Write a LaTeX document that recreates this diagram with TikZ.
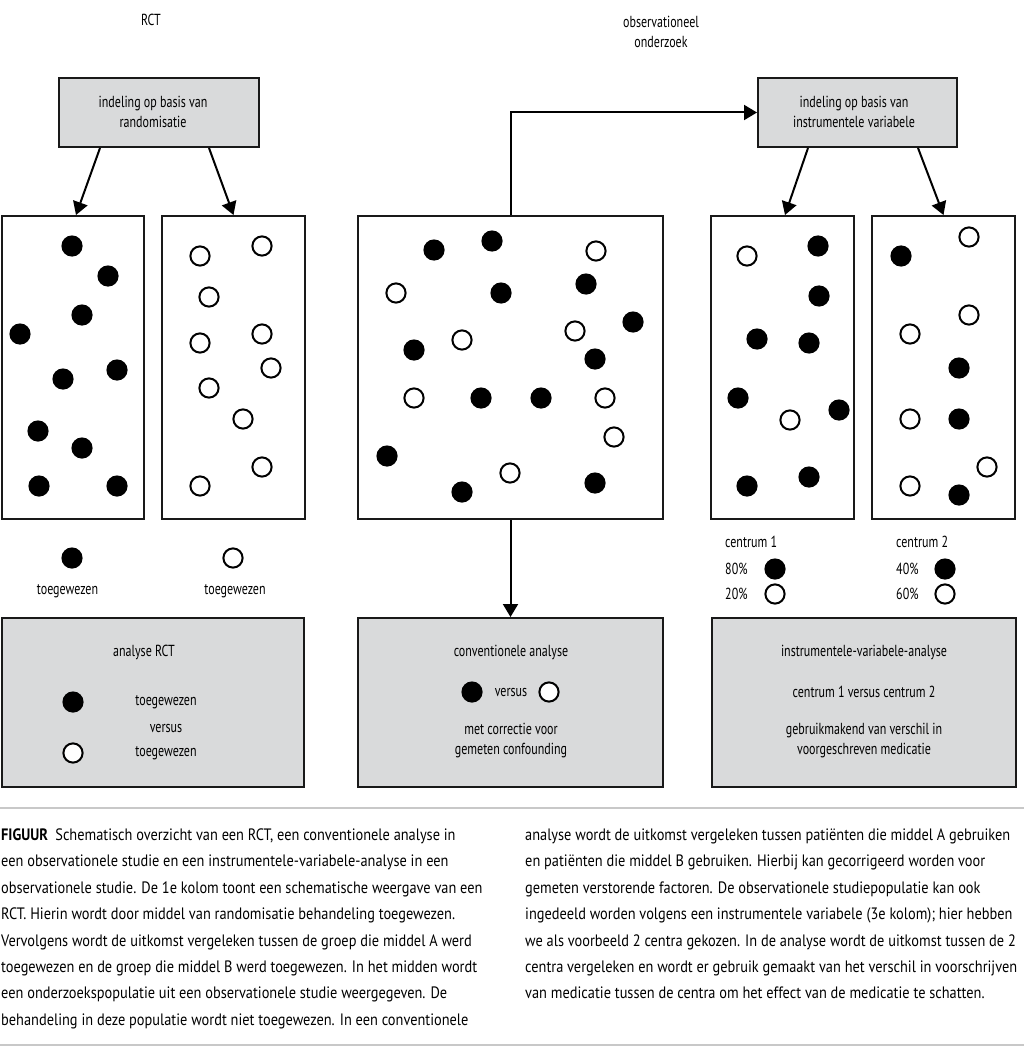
\documentclass[tikz,border=0pt]{standalone}
\usepackage{fontspec}
\setmainfont{PT Sans}[FakeStretch=0.87]
\newfontfamily\diagfont{PT Sans}[FakeStretch=0.75]
\usetikzlibrary{arrows.meta,calc}
\definecolor{boxgray}{RGB}{217,218,219}
\definecolor{rulegray}{RGB}{200,200,200}
\tikzset{
  pop/.style={draw=black!90, line width=2pt, minimum width=#1, minimum height=303pt, inner sep=0pt},
  graybox/.style={draw=black!90, fill=boxgray, line width=2pt, inner sep=0pt},
  arr/.style={line width=2pt, -{Triangle[length=13pt,width=15pt]}},
  lbl/.style={font=\diagfont\fontsize{16}{20}\selectfont, align=center, inner sep=0pt},
  captxt/.style={font=\fontsize{16.5}{20}\selectfont, anchor=base west, inner sep=0pt},
  fdot/.style={fill=black},
  odot/.style={draw=black, line width=2pt, fill=white},
}
\newcommand{\fd}[2]{\fill[fdot] (#1,#2) circle[radius=10.6pt];}
\newcommand{\od}[2]{\filldraw[odot] (#1,#2) circle[radius=9.6pt];}
\begin{document}
\begin{tikzpicture}[x=1pt,y=-1pt]
\useasboundingbox (0,0) rectangle (1024,1051);

% titles
\node[lbl] (trct) at (151,20) {RCT};
\node[lbl] (tobs) at (661,32) {observationeel\\onderzoek};

% top boxes
\node[graybox, minimum width=200pt, minimum height=69pt] (rtop) at (159,112.5) {};
\node[lbl] (rtoptxt) at (153,112) {indeling op basis van\\randomisatie};
\node[graybox, minimum width=199pt, minimum height=69pt] (ivtop) at (857.5,112.5) {};
\node[lbl] (ivtoptxt) at (854,112) {indeling op basis van\\instrumentele variabele};

% population boxes
\node[pop=142pt] (b1) at (73,367.5) {};
\node[pop=143pt] (b2) at (233.5,367.5) {};
\node[pop=305pt] (mid) at (510.5,367.5) {};
\node[pop=143pt] (c1) at (782.5,367.5) {};
\node[pop=143pt] (c2) at (943.5,367.5) {};

% connectors
\draw[arr] ($(rtop.south)+(-59,0)$) -- ($(b1.north)+(3,0)$);
\draw[arr] ($(rtop.south)+(50,0)$) -- ($(b2.north)+(0,0)$);
\draw[arr] ($(ivtop.south)+(-49.5,0)$) -- ($(c1.north)+(2.5,0)$);
\draw[arr] ($(ivtop.south)+(60.5,0)$) -- ($(c2.north)+(0,0)$);
\draw[arr] (mid.north) |- (ivtop.west);

% analysis boxes
\node[graybox, minimum width=302pt, minimum height=169pt] (ranal) at (153,702.5) {};
\node[graybox, minimum width=305pt, minimum height=169pt] (manal) at (510.5,702.5) {};
\node[graybox, minimum width=304pt, minimum height=169pt] (ianal) at (864,702.5) {};
\draw[arr] (mid.south) -- (manal.north);

% RCT dots
\fd{72}{246}\fd{108}{276}\fd{82}{315}\fd{20}{334}\fd{63}{379}
\fd{117}{370}\fd{38}{431}\fd{82}{448}\fd{39}{486}\fd{117}{486}
\od{200}{256}\od{262}{246}\od{209}{297}\od{200}{343}\od{262}{334}
\od{271}{368}\od{209}{388}\od{243}{419}\od{262}{467}\od{200}{486}

% observational dots
\fd{434}{250}\fd{492}{241}\fd{501}{293}\fd{586}{284}\fd{633}{322}
\fd{414}{350}\fd{595}{359}\fd{481}{398}\fd{541}{398}\fd{387}{456}
\fd{462}{492}\fd{595}{483}
\od{596}{251}\od{396}{293}\od{462}{340}\od{575}{331}\od{414}{398}
\od{605}{398}\od{614}{437}\od{510}{473}

% centrum 1
\od{747}{256}\fd{818}{246}\fd{819}{296}\fd{757}{339}\fd{809}{343}
\fd{738}{398}\od{790}{420}\fd{839}{410}\fd{747}{486}\fd{809}{477}
% centrum 2
\fd{901}{256}\od{969}{237}\od{969}{315}\od{910}{334}\fd{959}{368}
\od{910}{419}\fd{959}{419}\od{987}{467}\od{910}{486}\fd{959}{495}

% RCT legend
\fd{72}{558}\od{233}{558}
\node[lbl] (l1) at (67.5,591) {toegewezen};
\node[lbl] (l2) at (235,591) {toegewezen};

% centrum legend
\node[lbl, anchor=west] (c1t) at (725,542) {centrum 1};
\node[lbl, anchor=west] (c1a) at (725,569) {80\%};
\node[lbl, anchor=west] (c1b) at (725,594) {20\%};
\fd{775}{569}\od{775}{594}
\node[lbl, anchor=west] (c2t) at (896,542) {centrum 2};
\node[lbl, anchor=west] (c2a) at (896,569) {40\%};
\node[lbl, anchor=west] (c2b) at (896,594) {60\%};
\fd{945}{569}\od{945}{594}

% RCT analysis contents
\node[lbl] (ra1) at (144,652) {analyse RCT};
\fd{73}{702}\od{73}{753}
\node[lbl] (ra2) at (166,702) {toegewezen};
\node[lbl] (ra3) at (166,728) {versus};
\node[lbl] (ra4) at (166,753) {toegewezen};

% conventional analysis contents
\node[lbl] (ma1) at (511,652) {conventionele analyse};
\fd{472}{692}\od{549}{692}
\node[lbl] (ma2) at (511,692) {versus};
\node[lbl] (ma3) at (511,740.5) {met correctie voor\\gemeten confounding};

% IV analysis contents
\node[lbl] (ia1) at (864,652) {instrumentele-variabele-analyse};
\node[lbl] (ia2) at (864,692) {centrum 1 versus centrum 2};
\node[lbl] (ia3) at (864,740.5) {gebruikmakend van verschil in\\voorgeschreven medicatie};

% caption rules
\draw[rulegray, line width=1.5pt] (0,808) -- (1024,808);
\draw[rulegray, line width=1.5pt] (0,1045) -- (1024,1045);

% caption left column
\node[captxt] (L1) at (1,840.5) {\textbf{FIGUUR}\hspace{0.45em}Schematisch overzicht van een RCT, een conventionele analyse in};
\node[captxt] (L2) at (1,866.9) {een observationele studie en een instrumentele-variabele-analyse in een};
\node[captxt] (L3) at (1,893.3) {observationele studie. De 1e kolom toont een schematische weergave van een};
\node[captxt] (L4) at (1,919.7) {RCT. Hierin wordt door middel van randomisatie behandeling toegewezen.};
\node[captxt] (L5) at (1,946.1) {Vervolgens wordt de uitkomst vergeleken tussen de groep die middel A werd};
\node[captxt] (L6) at (1,972.5) {toegewezen en de groep die middel B werd toegewezen. In het midden wordt};
\node[captxt] (L7) at (1,998.9) {een onderzoekspopulatie uit een observationele studie weergegeven. De};
\node[captxt] (L8) at (1,1025.3) {behandeling in deze populatie wordt niet toegewezen. In een conventionele};
% caption right column
\node[captxt] (R1) at (525,840.5) {analyse wordt de uitkomst vergeleken tussen patiënten die middel A gebruiken};
\node[captxt] (R2) at (525,866.9) {en patiënten die middel B gebruiken. Hierbij kan gecorrigeerd worden voor};
\node[captxt] (R3) at (525,893.3) {gemeten verstorende factoren. De observationele studiepopulatie kan ook};
\node[captxt] (R4) at (525,919.7) {ingedeeld worden volgens een instrumentele variabele (3e kolom); hier hebben};
\node[captxt] (R5) at (525,946.1) {we als voorbeeld 2 centra gekozen. In de analyse wordt de uitkomst tussen de 2};
\node[captxt] (R6) at (525,972.5) {centra vergeleken en wordt er gebruik gemaakt van het verschil in voorschrijven};
\node[captxt] (R7) at (525,998.9) {van medicatie tussen de centra om het effect van de medicatie te schatten.};
\end{tikzpicture}
\end{document}
